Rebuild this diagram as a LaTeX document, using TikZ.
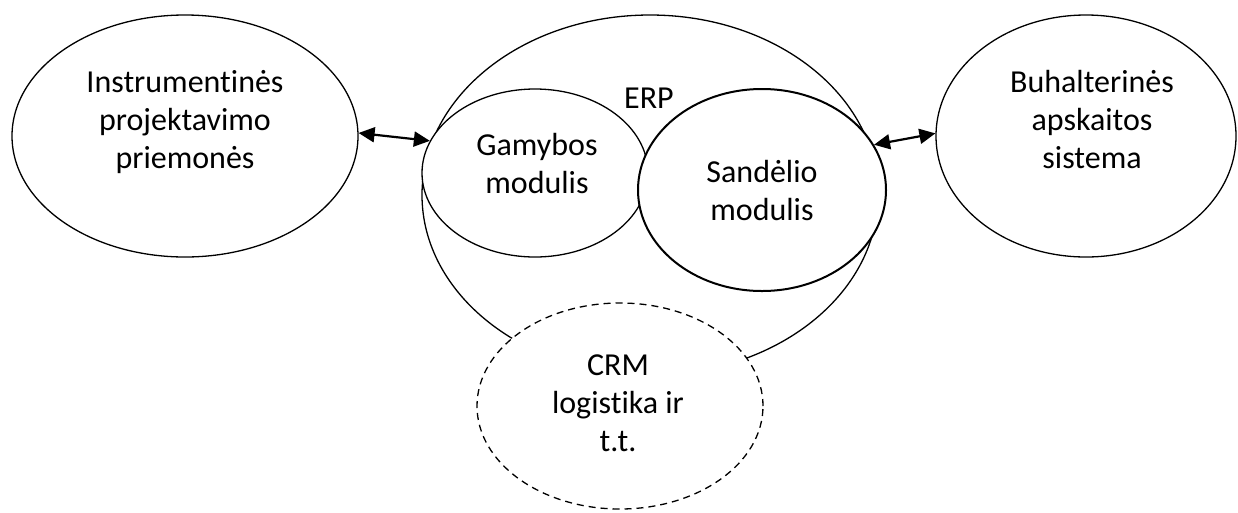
\documentclass[tikz,border=0pt]{standalone}
\usepackage{fontspec}
\setmainfont{Carlito}[RawFeature={-liga;-clig}]
\usetikzlibrary{shapes.geometric,arrows.meta}
\begin{document}
\begin{tikzpicture}[x=1pt,y=-1pt,
  oval/.style={draw, ellipse, line width=1.3pt, fill=white, inner sep=0pt},
  lbl/.style={anchor=base, font=\fontsize{32}{38}\selectfont, inner sep=0pt},
  link/.style={{Triangle[length=16pt,width=15pt]}-{Triangle[length=16pt,width=15pt]}, line width=2.2pt}]
\useasboundingbox (0,0) rectangle (1238,512);
% shapes
\node[oval, minimum width=456pt, minimum height=360pt] (erp) at (650,195) {};
\node[oval, minimum width=226pt, minimum height=168pt] (gam) at (535,173) {};
\node[oval, line width=2pt, minimum width=248pt, minimum height=202pt] (san) at (762,190) {};
\node[oval, dash pattern=on 7pt off 5pt, minimum width=286pt, minimum height=206pt] (crm) at (620,406) {};
\node[oval, minimum width=346pt, minimum height=242pt] (left) at (185,136) {};
\node[oval, minimum width=300pt, minimum height=242pt] (buh) at (1086,136) {};
% connectors
\draw[link] (left.1) -- (gam.163);
\draw[link] (san.22) -- (buh.179);
% texts
\node[lbl] (t1) at (185,92) {Instrumentinės};
\node[lbl] (t2) at (185,130) {projektavimo};
\node[lbl] (t3) at (185,168) {priemonės};
\node[lbl] (b1) at (1092,92) {Buhalterinės};
\node[lbl] (b2) at (1092,130) {apskaitos};
\node[lbl] (b3) at (1092,168) {sistema};
\node[lbl] (e1) at (649,108) {ERP};
\node[lbl] (g1) at (537,155) {Gamybos};
\node[lbl] (g2) at (537,193) {modulis};
\node[lbl] (s1) at (762,182) {Sandėlio};
\node[lbl] (s2) at (762,220) {modulis};
\node[lbl] (c1) at (618,375) {CRM};
\node[lbl] (c2) at (618,413) {logistika ir};
\node[lbl] (c3) at (618,451) {t.t.};
\end{tikzpicture}
\end{document}
